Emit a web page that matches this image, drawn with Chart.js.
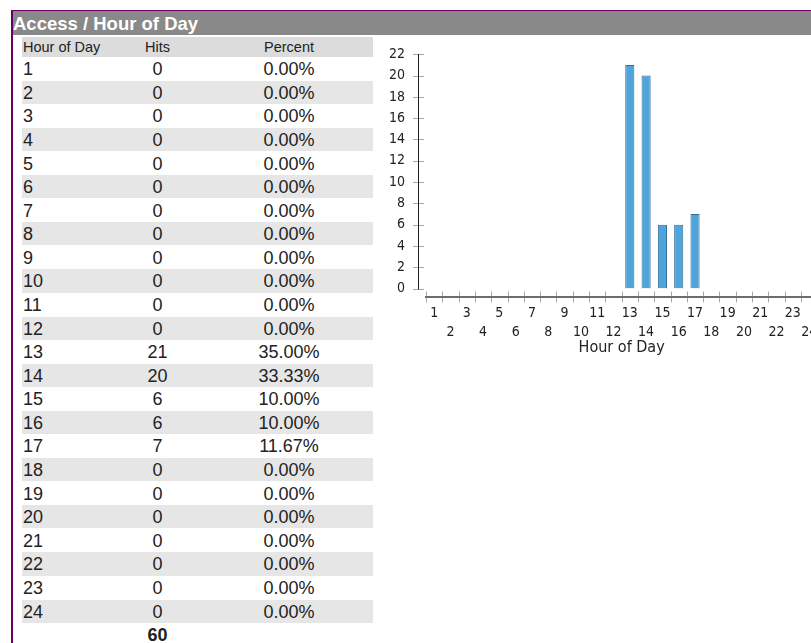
<!DOCTYPE html>
<html>
<head>
<meta charset="utf-8">
<script src="https://cdn.jsdelivr.net/npm/chart.js@4/dist/chart.umd.min.js"></script>
<style>
  html, body { margin:0; padding:0; background:#fff; }
  #page { position:relative; width:811px; height:643px; overflow:hidden; font-family:'Liberation Sans', Arial, sans-serif; color:#222; }
  #frameL { position:absolute; left:11px; top:10px; width:2px; height:633px; background:#660066; }
  #frameT { position:absolute; left:11px; top:10px; width:800px; height:1px; background:#660066; }
  #title { position:absolute; left:13px; top:11px; width:798px; height:24px; background:#898989; color:#fff;
           font:bold 18.5px 'Liberation Sans', Arial, sans-serif; line-height:25px; padding-left:0px; white-space:nowrap; }
  .row { position:absolute; left:22px; width:351px; }
  .row span { position:absolute; top:0; white-space:nowrap; }
  .c1 { left:1px; }
  .c2 { left:88px; width:95px; text-align:center; }
  .c3 { left:183px; width:168px; text-align:center; }
  #wrap { position:absolute; left:370px; top:40px; width:460px; height:330px; }
  #wrap canvas { display:block; }
</style>
</head>
<body>
<div id="page">
  <div id="frameT"></div>
  <div id="frameL"></div>
  <div id="title">Access / Hour of Day</div>
  <div id="table"></div>
  <div id="wrap"><canvas id="c" width="460" height="330"></canvas></div>
</div>
<script>
// ---- data ----
const hours = ['1','2','3','4','5','6','7','8','9','10','11','12','13','14','15','16','17','18','19','20','21','22','23','24'];
const hits = [0,0,0,0,0,0,0,0,0,0,0,0,21,20,6,6,7,0,0,0,0,0,0,0];
const percents = ['0.00%','0.00%','0.00%','0.00%','0.00%','0.00%','0.00%','0.00%','0.00%','0.00%','0.00%','0.00%',
                  '35.00%','33.33%','10.00%','10.00%','11.67%','0.00%','0.00%','0.00%','0.00%','0.00%','0.00%','0.00%'];
const totalHits = '60';
const headers = ['Hour of Day','Hits','Percent'];
const yTicksMax = 22;
const yStep = 2;
const xTitle = 'Hour of Day';

// ---- table ----
const tbl = document.getElementById('table');
function addRow(top, height, bg, cells, fontCss, lineH, shift) {
  const r = document.createElement('div');
  r.className = 'row';
  r.style.top = top + 'px';
  r.style.height = height + 'px';
  if (bg) r.style.background = bg;
  ['c1','c2','c3'].forEach((cls, k) => {
    const s = document.createElement('span');
    s.className = cls;
    s.textContent = cells[k];
    s.style.font = fontCss;
    s.style.lineHeight = lineH + 'px';
    s.style.top = shift + 'px';
    r.appendChild(s);
  });
  tbl.appendChild(r);
}
addRow(36.7, 20, '#dcdcdc', headers, "14.5px 'Liberation Sans', Arial, sans-serif", 20, 0);
const rowTop0 = 57.2, pitch = 23.58;
hours.forEach((h, i) => {
  addRow(rowTop0 + i * pitch, 23.2, (i % 2 === 1) ? '#e6e6e6' : null,
         [h, String(hits[i]), percents[i]], "18px 'Liberation Sans', Arial, sans-serif", 23, 1);
});
addRow(rowTop0 + 24 * pitch, 23.2, null, ['', totalHits, ''], "bold 18px 'Liberation Sans', Arial, sans-serif", 23, 1);

// ---- chart ----
const tickFont = "'Liberation Sans Narrow', 'DejaVu Sans Condensed', sans-serif";
const axesPlugin = {
  id: 'customAxes',
  afterDraw(chart) {
    const { ctx, chartArea: a, scales: { x, y } } = chart;
    ctx.save();
    const yx = Math.round(a.left - 8) + 0.5;
    ctx.strokeStyle = '#a8a8a8';
    ctx.lineWidth = 1;
    ctx.beginPath();
    y.ticks.forEach(t => {
      const py = Math.round(y.getPixelForValue(t.value)) + 0.5;
      ctx.moveTo(yx - 5.5, py);
      ctx.lineTo(yx + 5.5, py);
    });
    ctx.stroke();
    ctx.strokeStyle = '#1a1a1a';
    ctx.beginPath();
    ctx.moveTo(yx, Math.round(y.getPixelForValue(y.max)));
    ctx.lineTo(yx, Math.round(y.getPixelForValue(0)) + 0.5);
    ctx.stroke();
    const base = a.bottom;
    ctx.strokeStyle = '#a8a8a8';
    ctx.beginPath();
    const n = x.ticks.length;
    const w = (x.getPixelForTick(n - 1) - x.getPixelForTick(0)) / (n - 1);
    for (let i = 0; i <= n; i++) {
      const px = Math.round(x.getPixelForTick(0) - w / 2 + i * w) + 0.5;
      ctx.moveTo(px, base + 3);
      ctx.lineTo(px, base + 14);
    }
    ctx.stroke();
    ctx.fillStyle = '#6e6e6e';
    ctx.fillRect(Math.round(a.left - 1), Math.round(base + 7.5), chart.width, 2);
    ctx.restore();
  }
};

new Chart(document.getElementById('c'), {
  type: 'bar',
  data: {
    labels: hours,
    datasets: [{
      data: hits,
      backgroundColor: '#4fa4da',
      borderColor: '#2f6c98',
      borderWidth: 1,
      borderSkipped: 'bottom',
      barPercentage: 0.56,
      categoryPercentage: 1.0
    }]
  },
  options: {
    responsive: false,
    animation: false,
    events: [],
    layout: { padding: { top: 14.3, right: 12.7, bottom: 12.6, left: 0 } },
    plugins: { legend: { display: false }, tooltip: { enabled: false } },
    scales: {
      x: {
        type: 'category',
        offset: true,
        grid: { display: false, drawTicks: true, tickLength: 15 },
        border: { display: false },
        ticks: {
          autoSkip: false, maxRotation: 0, minRotation: 0,
          padding: 0, color: '#222',
          font: { family: tickFont, size: 14, lineHeight: 19 / 14 },
          callback: function (val, i) {
            const l = this.getLabelForValue(val);
            return (i % 2 === 0) ? [l, ''] : ['', l];
          }
        },
        title: {
          display: true, text: xTitle, color: '#222', padding: 0,
          font: { family: "'DejaVu Sans Condensed', 'DejaVu Sans', sans-serif", size: 16, lineHeight: 1.2 }
        },
        afterFit(scale) { scale.height = 68.9; }
      },
      y: {
        min: 0, max: yTicksMax,
        grid: { display: false, drawTicks: true, tickLength: 21 },
        border: { display: false },
        ticks: { stepSize: yStep, padding: 0, color: '#222', font: { family: tickFont, size: 14 } },
        afterFit(scale) { scale.width = 56; }
      }
    }
  },
  plugins: [axesPlugin]
});
</script>
</body>
</html>
